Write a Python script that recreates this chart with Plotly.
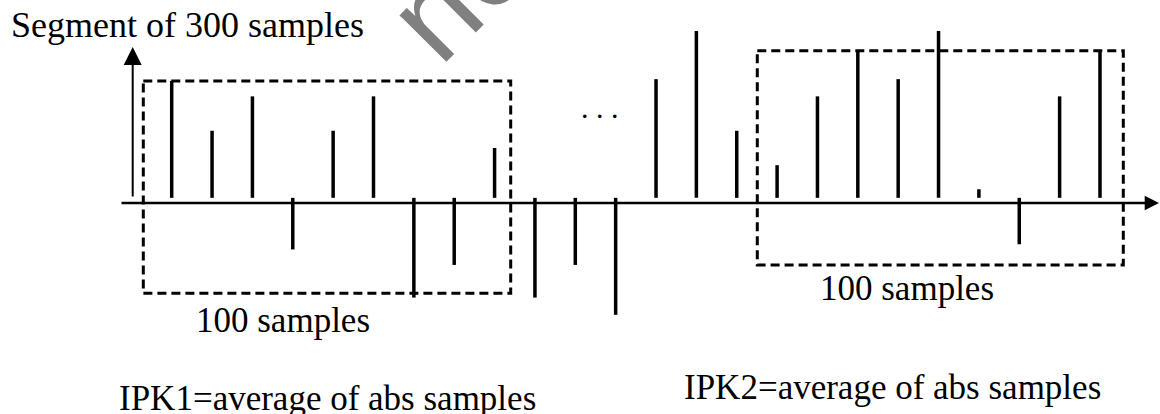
import plotly.graph_objects as go

# sample index and amplitude of each stem drawn on the segment
sample_index = list(range(24))
amplitudes = [7.1, 4.2, 6.2, -2.7, 4.2, 6.2, -5.5, -3.6, 3.2, -5.5, -3.6, -6.5,
              7.2, 10.0, 4.2, 2.2, 6.2, 8.8, 7.2, 10.0, 0.8, -2.4, 6.2, 8.9]

title_text = 'Segment of 300 samples'
window_labels = ['100 samples', '100 samples']
ipk_labels = ['IPK1=average of abs samples', 'IPK2=average of abs samples']

W, H = 1160, 414
# pixel calibration of the sample / amplitude scales
X0_PX, DX_PX = 171.7, 40.36
Y0_PX, DY_PX = 203.0, 17.2
STEM_BASE = 0.3
FONT = 'Liberation Serif'


def px_x(px):
    return (px - X0_PX) / DX_PX


def px_y(py):
    return (Y0_PX - py) / DY_PX


def paper_x(px):
    return px / W


def paper_y(py):
    return 1 - py / H


# stems as one line trace with gaps between them
xs, ys = [], []
for i, a in zip(sample_index, amplitudes):
    xs += [i, i, None]
    ys += [STEM_BASE, a, None]

fig = go.Figure()
fig.add_trace(go.Scatter(x=xs, y=ys, mode='lines',
                         line=dict(color='black', width=3.5),
                         hoverinfo='skip'))

# dashed windows of 100 samples
box_dash = dict(color='black', width=3, dash='9px,5px')
shapes = [
    dict(type='rect', xref='x', yref='y', x0=px_x(143.3), x1=px_x(510.7),
         y0=px_y(81), y1=px_y(293.3), line=box_dash),
    dict(type='rect', xref='x', yref='y', x0=px_x(757.3), x1=px_x(1123.3),
         y0=px_y(50.7), y1=px_y(265), line=box_dash),
]

annotations = [
    # horizontal axis with arrow
    dict(x=px_x(1159), y=0, ax=px_x(120), ay=0, xref='x', yref='y',
         axref='x', ayref='y', showarrow=True, arrowhead=2, arrowsize=1.1,
         arrowwidth=2.6, arrowcolor='black', text=''),
    # vertical axis with arrow
    dict(x=px_x(132.7), y=px_y(47), ax=px_x(132.7), ay=px_y(198), xref='x',
         yref='y', axref='x', ayref='y', showarrow=True, arrowhead=2,
         arrowsize=1.8, arrowwidth=2, arrowcolor='black', text=''),
    dict(x=paper_x(9), y=paper_y(25), xref='paper', yref='paper',
         text=title_text, showarrow=False, xanchor='left', yanchor='middle',
         font=dict(family=FONT, size=36, color='black')),
    dict(x=paper_x(282.5), y=paper_y(320), xref='paper', yref='paper',
         text=window_labels[0], showarrow=False, xanchor='center', yanchor='middle',
         font=dict(family=FONT, size=35, color='black')),
    dict(x=paper_x(906.5), y=paper_y(288), xref='paper', yref='paper',
         text=window_labels[1], showarrow=False, xanchor='center', yanchor='middle',
         font=dict(family=FONT, size=35, color='black')),
    dict(x=paper_x(117), y=paper_y(398.5), xref='paper', yref='paper',
         text=ipk_labels[0], showarrow=False, xanchor='left', yanchor='middle',
         font=dict(family=FONT, size=35, color='black')),
    dict(x=paper_x(682), y=paper_y(387), xref='paper', yref='paper',
         text=ipk_labels[1], showarrow=False, xanchor='left', yanchor='middle',
         font=dict(family=FONT, size=35, color='black')),
    # ellipsis between the two windows
    dict(x=paper_x(600), y=paper_y(107), xref='paper', yref='paper',
         text='. . .', showarrow=False, xanchor='center', yanchor='middle',
         font=dict(family=FONT, size=30, color='black')),
    # grey watermark fragment
    dict(x=paper_x(458), y=paper_y(-12), xref='paper', yref='paper',
         text='no', showarrow=False, xanchor='center', yanchor='middle',
         textangle=-45,
         font=dict(family='Liberation Sans', size=125, color='#808080')),
]

fig.update_layout(
    width=W, height=H,
    margin=dict(l=0, r=0, t=0, b=0),
    paper_bgcolor='white', plot_bgcolor='white',
    showlegend=False,
    xaxis=dict(range=[px_x(0), px_x(W)], visible=False, fixedrange=True),
    yaxis=dict(range=[px_y(H), px_y(0)], visible=False, fixedrange=True),
    shapes=shapes,
    annotations=annotations,
)

fig.write_html('out.html', config={'displayModeBar': False},
               post_script="document.body.style.margin='0';"
                           "document.body.style.overflow='hidden';")
